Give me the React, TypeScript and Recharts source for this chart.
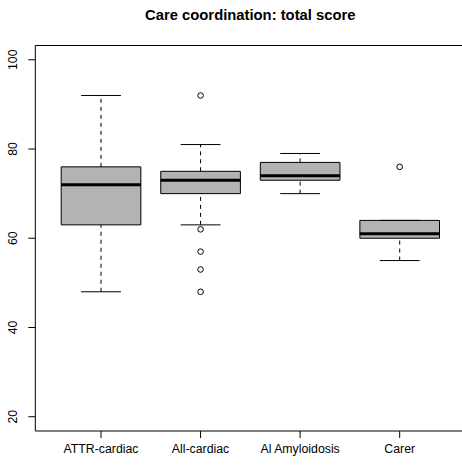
import React from "react";
import {
  ComposedChart,
  XAxis,
  YAxis,
  Scatter,
  ReferenceArea,
  ReferenceLine,
} from "recharts";

// one entry per group, left to right
const groups = ["ATTR-cardiac", "All-cardiac", "Al Amyloidosis", "Carer"];
const lowerWhisker = [48, 63, 70, 55];
const q1 = [63, 70, 73, 60];
const median = [72, 73, 74, 61];
const q3 = [76, 75, 77, 64];
const upperWhisker = [92, 81, 79, 64];
const outliers = [[], [92, 62, 57, 53, 48], [], [76]];
const yTicks = [20, 40, 60, 80, 100];

const FONT = "'Liberation Sans', Arial, Helvetica, sans-serif";
const BOX_FILL = "#b3b3b3";

const outlierPoints = outliers.flatMap((vals, i) =>
  vals.map((v) => ({ x: i + 1, y: v }))
);

const XTick = (props: any) => {
  const { x, y, payload } = props;
  return (
    <text x={x} y={y + 12.5} textAnchor="middle" fontSize={12.3} fontFamily={FONT} fill="#000">
      {groups[payload.value - 1]}
    </text>
  );
};

const YTick = (props: any) => {
  const { x, y, payload } = props;
  const bx = x - 9.5;
  return (
    <text
      x={bx}
      y={y}
      textAnchor="middle"
      fontSize={12.3}
      fontFamily={FONT}
      fill="#000"
      transform={`rotate(-90, ${bx}, ${y})`}
    >
      {payload.value}
    </text>
  );
};

const Outlier = (props: any) => (
  <circle cx={props.cx} cy={props.cy} r={2.8} fill="none" stroke="#000" strokeWidth={1} />
);

export default function App() {
  return (
    <div
      style={{
        position: "absolute",
        left: 0,
        top: 0,
        width: 462,
        height: 465,
        overflow: "hidden",
        background: "#fff",
      }}
    >
      <div
        style={{
          position: "absolute",
          left: 35.3,
          width: 430,
          top: 7,
          textAlign: "center",
          fontFamily: FONT,
          fontWeight: "bold",
          fontSize: 14.8,
        }}
      >
        Care coordination: total score
      </div>
      <ComposedChart
        width={480}
        height={465}
        margin={{ top: 45.5, right: 14.6, bottom: 0, left: 0 }}
        data={outlierPoints}
      >
        <XAxis
          type="number"
          dataKey="x"
          domain={[0.34, 4.66]}
          ticks={[1, 2, 3, 4]}
          height={34}
          axisLine={false}
          tickSize={7}
          tickLine={{ stroke: "#000" }}
          tick={<XTick />}
          allowDataOverflow
        />
        <YAxis
          type="number"
          dataKey="y"
          domain={[16.8, 103.2]}
          ticks={yTicks}
          width={35.3}
          axisLine={false}
          tickSize={7}
          tickLine={{ stroke: "#000" }}
          tick={<YTick />}
          allowDataOverflow
        />
        {groups.map((g, i) => {
          const c = i + 1;
          return (
            <React.Fragment key={g}>
              <ReferenceLine
                segment={[{ x: c, y: q3[i] }, { x: c, y: upperWhisker[i] }]}
                stroke="#000"
                strokeDasharray="4 4"
              />
              <ReferenceLine
                segment={[{ x: c, y: lowerWhisker[i] }, { x: c, y: q1[i] }]}
                stroke="#000"
                strokeDasharray="4 4"
              />
              <ReferenceLine
                segment={[{ x: c - 0.2, y: upperWhisker[i] }, { x: c + 0.2, y: upperWhisker[i] }]}
                stroke="#000"
              />
              <ReferenceLine
                segment={[{ x: c - 0.2, y: lowerWhisker[i] }, { x: c + 0.2, y: lowerWhisker[i] }]}
                stroke="#000"
              />
              <ReferenceArea
                x1={c - 0.4}
                x2={c + 0.4}
                y1={q1[i]}
                y2={q3[i]}
                fill={BOX_FILL}
                fillOpacity={1}
                stroke="#000"
                strokeWidth={1}
              />
              <ReferenceLine
                segment={[{ x: c - 0.4, y: median[i] }, { x: c + 0.4, y: median[i] }]}
                stroke="#000"
                strokeWidth={3}
              />
            </React.Fragment>
          );
        })}
        <Scatter dataKey="y" shape={<Outlier />} isAnimationActive={false} />
        <ReferenceArea
          x1={0.34}
          x2={4.66}
          y1={16.8}
          y2={103.2}
          fill="none"
          stroke="#000"
          strokeWidth={1}
        />
      </ComposedChart>
    </div>
  );
}
